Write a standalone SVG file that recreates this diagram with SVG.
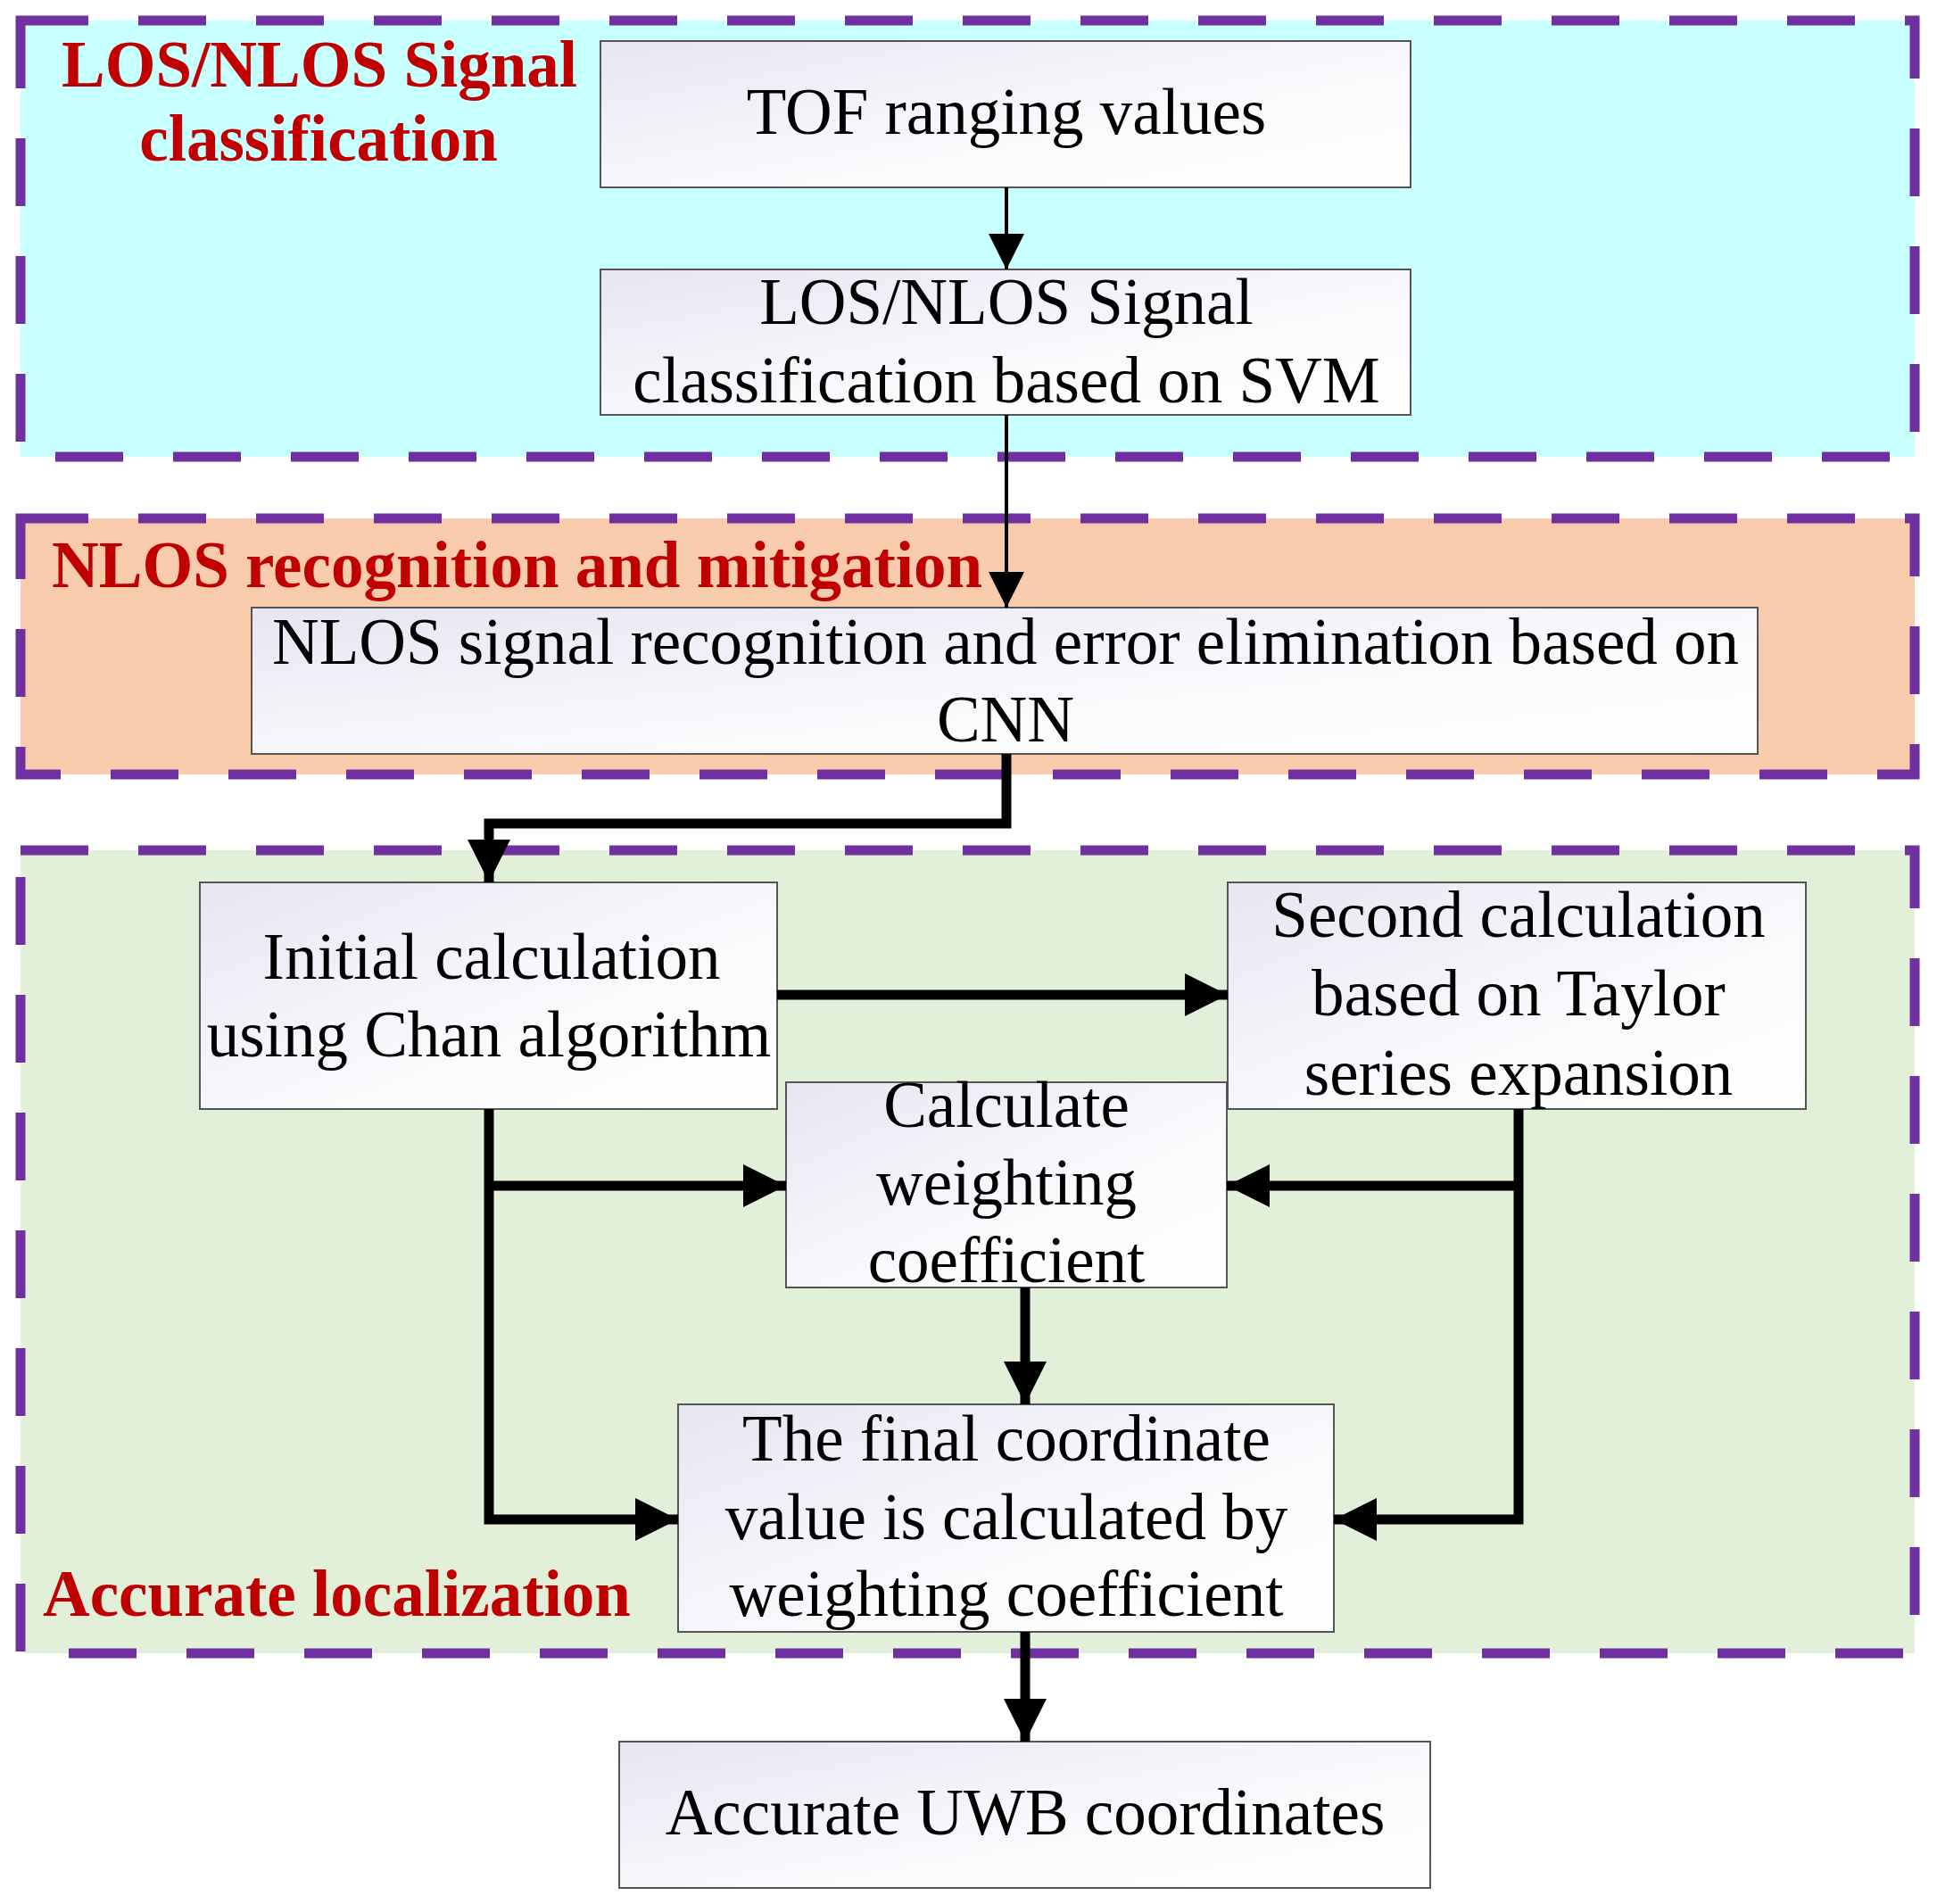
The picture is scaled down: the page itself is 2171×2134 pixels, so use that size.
<svg xmlns="http://www.w3.org/2000/svg" width="2171" height="2134" viewBox="0 0 2171 2134">
<defs>
<linearGradient id="g" x1="0" y1="0" x2="1" y2="1"><stop offset="0" stop-color="#e6e6f2"/><stop offset="0.6" stop-color="#fafafd"/><stop offset="1" stop-color="#ffffff"/></linearGradient>
<marker id="ah" viewBox="0 0 10 10" refX="10" refY="5" markerWidth="4.4" markerHeight="4.6" orient="auto" markerUnits="strokeWidth"><path d="M0,0 L10,5 L0,10 z" fill="#000"/></marker>
<marker id="at" viewBox="0 0 10 10" refX="10" refY="5" markerWidth="10" markerHeight="12" orient="auto" markerUnits="strokeWidth"><path d="M0,0 L10,5 L0,10 z" fill="#000"/></marker>
<style>
.reg{stroke:#7030a0;stroke-width:11;stroke-dasharray:76 56}
.box{fill:url(#g);stroke:#555;stroke-width:2}
.t{font-family:"Liberation Serif",serif;font-size:73px;fill:#000;text-anchor:middle}
.lab{font-family:"Liberation Serif",serif;font-size:73px;font-weight:bold;fill:#c00000}
.thin{fill:none;stroke:#000;stroke-width:4;marker-end:url(#at)}
.thick{fill:none;stroke:#000;stroke-width:11;marker-end:url(#ah)}
</style>
</defs>
<g id="regions">
<rect class="reg" x="23" y="23" width="2123" height="489" fill="#c8ffff"/>
<rect class="reg" x="23" y="581" width="2123" height="287" fill="#f8cbad"/>
<rect class="reg" x="23" y="953" width="2123" height="900" fill="#e2efd9"/>
<text class="lab" x="69" y="97">LOS/NLOS Signal</text>
<text class="lab" x="357" y="180" text-anchor="middle">classification</text>
<text class="lab" x="58" y="658">NLOS recognition and mitigation</text>
<text class="lab" x="48" y="1811">Accurate localization</text>
</g>
<g id="tof"><rect class="box" x="673" y="46" width="908" height="164"/><text class="t" x="1128" y="150">TOF ranging values</text></g>
<g id="svm"><rect class="box" x="673" y="302" width="908" height="163"/><text class="t" x="1128" y="363">LOS/NLOS Signal</text><text class="t" x="1128" y="451">classification based on SVM</text></g>
<g id="cnn"><rect class="box" x="282" y="681" width="1688" height="164"/><text class="t" x="1127" y="744">NLOS signal recognition and error elimination based on</text><text class="t" x="1127" y="831">CNN</text></g>
<g id="chan"><rect class="box" x="224" y="989" width="647" height="254"/><text class="t" x="551" y="1097">Initial calculation</text><text class="t" x="548" y="1184">using Chan algorithm</text></g>
<g id="taylor"><rect class="box" x="1376" y="989" width="648" height="254"/><text class="t" x="1702" y="1050">Second calculation</text><text class="t" x="1702" y="1138">based on Taylor</text><text class="t" x="1702" y="1227">series expansion</text></g>
<g id="weight"><rect class="box" x="881" y="1213" width="494" height="230"/><text class="t" x="1128" y="1263">Calculate</text><text class="t" x="1128" y="1350">weighting</text><text class="t" x="1128" y="1437">coefficient</text></g>
<g id="final"><rect class="box" x="760" y="1574" width="735" height="255"/><text class="t" x="1128" y="1637">The final coordinate</text><text class="t" x="1128" y="1725">value is calculated by</text><text class="t" x="1128" y="1811">weighting coefficient</text></g>
<g id="uwb"><rect class="box" x="694" y="1952" width="909" height="164"/><text class="t" x="1149" y="2056">Accurate UWB coordinates</text></g>
<g id="connectors">
<path class="thin" d="M1128,210 V302"/>
<path class="thin" d="M1128,465 V681"/>
<path class="thick" d="M1128,845 V923 H548 V989"/>
<path class="thick" d="M871,1115 H1376"/>
<path class="thick" d="M548,1243 V1703 H760"/>
<path class="thick" d="M548,1329 H881"/>
<path class="thick" d="M1702,1243 V1703 H1495"/>
<path class="thick" d="M1702,1329 H1375"/>
<path class="thick" d="M1149,1443 V1574"/>
<path class="thick" d="M1149,1829 V1952"/>
</g>
</svg>
